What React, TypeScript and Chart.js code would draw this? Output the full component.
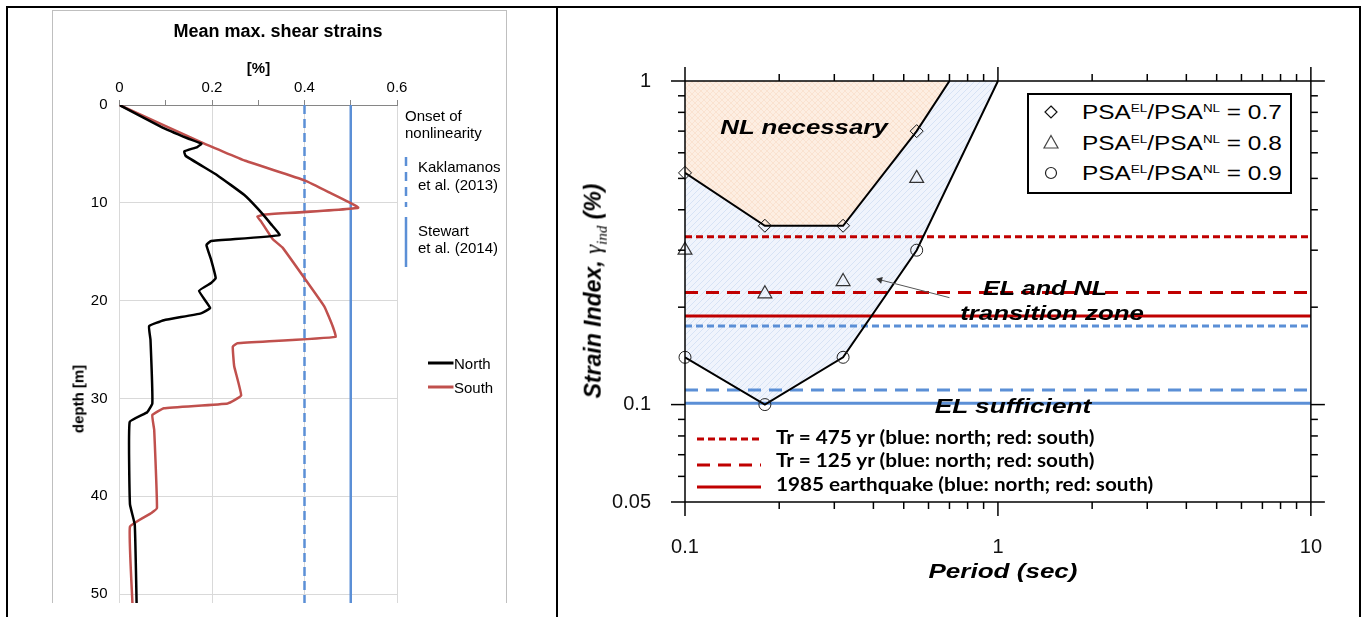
import React, { useEffect, useRef } from 'react';
import { Chart, registerables } from 'chart.js';

Chart.register(...registerables);

const ARIAL = '"Liberation Sans", Arial, Helvetica, sans-serif';
const NARROW = 'Lato, "Open Sans", sans-serif';
const SERIF = '"Liberation Serif", "Times New Roman", serif';

// ---------------- left panel data ----------------
const northDepth = [0, 2.2, 3.4, 3.95, 4.3, 4.75, 5.2, 7.2, 9.2, 10.6, 12.2, 13.3, 13.9, 14.3, 15.8, 17.7, 18.2, 19.0, 20.75, 21.3, 22.0, 22.6, 24.0, 30.5, 31.4, 32.4, 40.8, 42.9, 51, 60];
const northStrain = [0, 0.089, 0.147, 0.177, 0.168, 0.14, 0.143, 0.212, 0.27, 0.299, 0.328, 0.346, 0.198, 0.188, 0.198, 0.208, 0.198, 0.172, 0.196, 0.176, 0.096, 0.064, 0.067, 0.071, 0.06, 0.022, 0.0226, 0.033, 0.037, 0.04];
const southDepth = [0, 3.8, 5.7, 7.7, 8.9, 10.5, 11.2, 11.4, 11.9, 13.7, 14.6, 17.7, 20.6, 22.5, 23.7, 24.35, 24.7, 26.7, 29.7, 30.5, 31.0, 31.7, 33.2, 41.2, 41.7, 43.1, 51, 60];
const southStrain = [0, 0.176, 0.272, 0.40, 0.452, 0.516, 0.313, 0.298, 0.306, 0.331, 0.353, 0.40, 0.443, 0.460, 0.467, 0.255, 0.245, 0.248, 0.263, 0.234, 0.096, 0.071, 0.075, 0.081, 0.069, 0.0226, 0.028, 0.031];
const onsetKaklamanos = 0.4;
const onsetStewart = 0.5;
const depthAxisMax = 60;
const strainTickValues = [0, 0.1, 0.2, 0.3, 0.4, 0.5, 0.6];
const strainTickLabels = [0, 0.2, 0.4, 0.6];
const depthTickValues = [0, 10, 20, 30, 40, 50, 60];

// ---------------- right panel data ----------------
const diamondPeriod = [0.1, 0.18, 0.32, 0.55];
const diamondStrain = [0.52, 0.357, 0.357, 0.70];
const trianglePeriod = [0.1, 0.18, 0.32, 0.55];
const triangleStrain = [0.30, 0.22, 0.24, 0.50];
const circlePeriod = [0.1, 0.18, 0.32, 0.55];
const circleStrain = [0.14, 0.10, 0.14, 0.30];
const nlBoundaryPeriod = [0.1, 0.18, 0.32, 0.55, 0.7];
const nlBoundaryStrain = [0.52, 0.357, 0.357, 0.70, 1.0];
const elBoundaryPeriod = [0.1, 0.18, 0.32, 0.55, 1.0];
const elBoundaryStrain = [0.14, 0.10, 0.14, 0.30, 1.0];
const tr475South = 0.33;
const tr125South = 0.222;
const eq1985South = 0.188;
const tr475North = 0.175;
const tr125North = 0.111;
const eq1985North = 0.101;
const periodRange = [0.1, 10];
const strainRange = [0.05, 1];
const periodTicks = [0.1, 1, 10];
const periodMinorTicks = [0.2, 0.3, 0.4, 0.5, 0.6, 0.7, 0.8, 0.9, 2, 3, 4, 5, 6, 7, 8, 9];
const strainTicks = [0.05, 0.1, 1];
const strainMinorTicks = [0.06, 0.07, 0.08, 0.09, 0.2, 0.3, 0.4, 0.5, 0.6, 0.7, 0.8, 0.9];
const arrowPeriod = [0.70, 0.42];
const arrowStrain = [0.214, 0.243];

const RED = '#c00000';
const BLUE = '#5b8fd6';
const SHORT_DASH = [7, 4];
const LONG_DASH = [13, 8];

const pts = (xs: number[], ys: number[]) => xs.map((x, i) => ({ x, y: ys[i] }));

function makePattern(base: string, line: string, cross: boolean) {
  const c = document.createElement('canvas');
  c.width = 6;
  c.height = 6;
  const g = c.getContext('2d')!;
  g.fillStyle = base;
  g.fillRect(0, 0, 6, 6);
  g.strokeStyle = line;
  g.lineWidth = 1;
  g.beginPath();
  g.moveTo(0, 6);
  g.lineTo(6, 0);
  if (cross) {
    g.moveTo(0, 0);
    g.lineTo(6, 6);
  }
  g.stroke();
  return g.createPattern(c, 'repeat')!;
}

function LeftChart() {
  const ref = useRef<HTMLCanvasElement>(null);
  useEffect(() => {
    const font = { family: ARIAL, size: 15 };
    const chart = new Chart(ref.current!, {
      type: 'scatter',
      data: {
        datasets: [
          { label: 'North', data: pts(northStrain, northDepth), showLine: true, borderColor: '#000', borderWidth: 2.5, pointRadius: 0, tension: 0.1 },
          { label: 'South', data: pts(southStrain, southDepth), showLine: true, borderColor: '#c0504d', borderWidth: 2.5, pointRadius: 0, tension: 0.1 },
          { label: 'Kaklamanos et al. (2013)', data: [{ x: onsetKaklamanos, y: 0 }, { x: onsetKaklamanos, y: depthAxisMax }], showLine: true, borderColor: BLUE, borderWidth: 2.5, borderDash: [9, 5], pointRadius: 0 },
          { label: 'Stewart et al. (2014)', data: [{ x: onsetStewart, y: 0 }, { x: onsetStewart, y: depthAxisMax }], showLine: true, borderColor: BLUE, borderWidth: 2.5, pointRadius: 0 },
        ] as any,
      },
      options: {
        animation: false,
        responsive: false,
        devicePixelRatio: 1,
        layout: { padding: { left: 0, right: 109, top: 0, bottom: 39 } },
        plugins: { legend: { display: false }, tooltip: { enabled: false } },
        scales: {
          x: {
            type: 'linear',
            position: 'top',
            min: 0,
            max: 0.6,
            afterBuildTicks: (s: any) => { s.ticks = strainTickValues.map((v) => ({ value: v })); },
            afterFit: (s: any) => { s.height = 94; },
            ticks: {
              autoSkip: false,
              maxRotation: 0,
              padding: 3,
              color: '#000',
              font,
              callback: (v: any) => (strainTickLabels.includes(v) ? String(v) : ''),
            },
            grid: {
              color: (c: any) => (strainTickLabels.includes(c.tick?.value) ? '#d9d9d9' : 'rgba(0,0,0,0)'),
              tickColor: '#868686',
              tickLength: 5,
              lineWidth: 1,
            },
            border: { color: '#868686', width: 1 },
          },
          y: {
            type: 'linear',
            reverse: true,
            min: 0,
            max: depthAxisMax,
            afterBuildTicks: (s: any) => { s.ticks = depthTickValues.map((v) => ({ value: v })); },
            afterFit: (s: any) => { s.width = 66.5; },
            ticks: { padding: 12, color: '#000', font, callback: (v: any) => String(v) },
            grid: { color: '#d9d9d9', drawTicks: false, lineWidth: 1 },
            border: { display: false },
          },
        },
      } as any,
    });
    return () => chart.destroy();
  }, []);
  return <canvas ref={ref} width={453} height={720} style={{ position: 'absolute', left: 0, top: 0, width: 453, height: 720 }} />;
}

const logFramePlugin = {
  id: 'logFrame',
  afterDatasetsDraw(chart: any) {
    const { ctx, chartArea: a, scales } = chart;
    const x = scales.x;
    const y = scales.y;
    const major = 14;
    const minor = 7;
    ctx.save();
    ctx.strokeStyle = '#000';
    ctx.lineWidth = 1.5;
    const seg = (x1: number, y1: number, x2: number, y2: number) => {
      ctx.beginPath();
      ctx.moveTo(x1, y1);
      ctx.lineTo(x2, y2);
      ctx.stroke();
    };
    seg(a.left, a.top, a.right, a.top);
    seg(a.left, a.bottom, a.right, a.bottom);
    seg(a.left, a.top, a.left, a.bottom);
    seg(a.right, a.top, a.right, a.bottom);
    periodTicks.forEach((v) => {
      const p = x.getPixelForValue(v);
      seg(p, a.bottom, p, a.bottom + major);
      seg(p, a.top, p, a.top - major);
    });
    periodMinorTicks.forEach((v) => {
      const p = x.getPixelForValue(v);
      seg(p, a.bottom, p, a.bottom + minor);
      seg(p, a.top, p, a.top - minor);
    });
    strainTicks.forEach((v) => {
      const p = y.getPixelForValue(v);
      seg(a.left - major, p, a.left, p);
      seg(a.right, p, a.right + major, p);
    });
    strainMinorTicks.forEach((v) => {
      const p = y.getPixelForValue(v);
      seg(a.left - minor, p, a.left, p);
      seg(a.right, p, a.right + minor, p);
    });
    ctx.restore();
  },
};

function RightChart() {
  const ref = useRef<HTMLCanvasElement>(null);
  useEffect(() => {
    const orange = makePattern('#fdeee2', 'rgba(243,196,160,0.28)', true);
    const blue = makePattern('#f0f4fc', 'rgba(170,195,232,0.35)', false);
    const nlBoundary = pts(nlBoundaryPeriod, nlBoundaryStrain);
    const elBoundary = pts(elBoundaryPeriod, elBoundaryStrain);
    const nlRegion = [{ x: periodRange[0], y: strainRange[1] }, ...nlBoundary.slice().reverse()];
    const transitionRegion = [...nlBoundary, ...elBoundary.slice().reverse()];
    const hline = (v: number) => [{ x: periodRange[0], y: v }, { x: periodRange[1], y: v }];
    const lineDs = (label: string, v: number, color: string, dash: number[]) => ({
      label, data: hline(v), showLine: true, borderColor: color, borderWidth: 3, borderDash: dash, pointRadius: 0,
    });
    const font = { family: ARIAL, size: 20 };
    const chart = new Chart(ref.current!, {
      type: 'scatter',
      data: {
        datasets: [
          { label: 'PSA 0.7', data: pts(diamondPeriod, diamondStrain), clip: false, pointStyle: 'rectRot', pointRadius: 6.5, pointBorderColor: '#111', pointBorderWidth: 1, pointBackgroundColor: 'rgba(0,0,0,0)', showLine: false },
          { label: 'PSA 0.8', data: pts(trianglePeriod, triangleStrain), clip: false, pointStyle: 'triangle', pointRadius: 8, pointBorderColor: '#333', pointBorderWidth: 1.2, pointBackgroundColor: 'rgba(0,0,0,0)', showLine: false },
          { label: 'PSA 0.9', data: pts(circlePeriod, circleStrain), clip: false, pointStyle: 'circle', pointRadius: 6, pointBorderColor: '#222', pointBorderWidth: 1, pointBackgroundColor: 'rgba(0,0,0,0)', showLine: false },
          { label: 'arrow', data: pts(arrowPeriod, arrowStrain), showLine: true, borderColor: '#555', borderWidth: 1, pointRadius: [0, 4], pointStyle: 'triangle', pointRotation: -76, pointBackgroundColor: '#333', pointBorderColor: '#333', pointBorderWidth: 0 },
          { label: 'NL boundary', data: nlBoundary, showLine: true, borderColor: '#000', borderWidth: 2, pointRadius: 0 },
          { label: 'EL boundary', data: elBoundary, showLine: true, borderColor: '#000', borderWidth: 2, pointRadius: 0 },
          lineDs('Tr475 south', tr475South, RED, SHORT_DASH),
          lineDs('Tr125 south', tr125South, RED, LONG_DASH),
          lineDs('1985 south', eq1985South, RED, []),
          lineDs('Tr475 north', tr475North, BLUE, SHORT_DASH),
          lineDs('Tr125 north', tr125North, BLUE, LONG_DASH),
          lineDs('1985 north', eq1985North, BLUE, []),
          { label: 'transition', data: transitionRegion, showLine: true, borderWidth: 0, borderColor: 'rgba(0,0,0,0)', backgroundColor: blue, fill: 'shape', pointRadius: 0 },
          { label: 'NL region', data: nlRegion, showLine: true, borderWidth: 0, borderColor: 'rgba(0,0,0,0)', backgroundColor: orange, fill: 'shape', pointRadius: 0 },
        ] as any,
      },
      options: {
        animation: false,
        responsive: false,
        devicePixelRatio: 1,
        layout: { padding: { left: 0, right: 39, top: 71, bottom: 48 } },
        plugins: { legend: { display: false }, tooltip: { enabled: false } },
        scales: {
          x: {
            type: 'logarithmic',
            min: periodRange[0],
            max: periodRange[1],
            afterBuildTicks: (s: any) => { s.ticks = periodTicks.map((v) => ({ value: v })); },
            afterFit: (s: any) => { s.height = 60; },
            ticks: { autoSkip: false, maxRotation: 0, padding: 33, color: '#111', font, callback: (v: any) => String(v) },
            grid: { display: false, drawTicks: false },
            border: { display: false },
          },
          y: {
            type: 'logarithmic',
            min: strainRange[0],
            max: strainRange[1],
            afterBuildTicks: (s: any) => { s.ticks = strainTicks.map((v) => ({ value: v })); },
            afterFit: (s: any) => { s.width = 125; },
            ticks: { autoSkip: false, padding: 34, color: '#111', font, callback: (v: any) => String(v) },
            grid: { display: false, drawTicks: false },
            border: { display: false },
          },
        },
      } as any,
      plugins: [logFramePlugin],
    });
    return () => chart.destroy();
  }, []);
  return <canvas ref={ref} width={795} height={600} style={{ position: 'absolute', left: 560, top: 10, width: 795, height: 600 }} />;
}

const C = (props: { x: number; y: number; k?: number; style?: any; children: any }) => (
  <div
    style={{
      position: 'absolute',
      left: props.x,
      top: props.y,
      transform: `translate(-50%, -50%) scaleX(${props.k ?? 1})`,
      whiteSpace: 'nowrap',
      ...props.style,
    }}
  >
    {props.children}
  </div>
);

const L = (props: { x: number; y: number; k?: number; style?: any; children: any }) => (
  <div
    style={{
      position: 'absolute',
      left: props.x,
      top: props.y,
      transform: `translateY(-50%) scaleX(${props.k ?? 1})`,
      transformOrigin: 'left center',
      whiteSpace: 'nowrap',
      ...props.style,
    }}
  >
    {props.children}
  </div>
);

const Seg = (props: { x1: number; y1: number; x2: number; y2: number; color: string; w: number; dash?: string }) => {
  const left = Math.min(props.x1, props.x2) - 4;
  const top = Math.min(props.y1, props.y2) - 4;
  const width = Math.abs(props.x2 - props.x1) + 8;
  const height = Math.abs(props.y2 - props.y1) + 8;
  return (
    <svg style={{ position: 'absolute', left, top, width, height, overflow: 'visible' }} width={width} height={height}>
      <line x1={props.x1 - left} y1={props.y1 - top} x2={props.x2 - left} y2={props.y2 - top} stroke={props.color} strokeWidth={props.w} strokeDasharray={props.dash} />
    </svg>
  );
};

const Sup = (props: { children: any }) => (
  <span style={{ fontSize: 11, position: 'relative', top: -7 }}>{props.children}</span>
);

const PsaLabel = (props: { v: string }) => (
  <span>
    PSA<Sup>EL</Sup>/PSA<Sup>NL</Sup> = {props.v}
  </span>
);

const Marker = (props: { kind: string; cx: number; cy: number }) => (
  <svg style={{ position: 'absolute', left: props.cx - 9, top: props.cy - 9 }} width={18} height={18}>
    {props.kind === 'diamond' && <polygon points="9,3 15,9 9,15 3,9" fill="none" stroke="#111" strokeWidth={1.2} />}
    {props.kind === 'triangle' && <polygon points="9,2.5 16,15 2,15" fill="none" stroke="#444" strokeWidth={1.2} />}
    {props.kind === 'circle' && <circle cx={9} cy={9} r={5.5} fill="none" stroke="#222" strokeWidth={1.2} />}
  </svg>
);

export default function App() {
  const leftText = { fontFamily: ARIAL, fontSize: 15, color: '#000' };
  const bi = { fontFamily: ARIAL, fontWeight: 'bold', fontStyle: 'italic', fontSize: 21, color: '#000' };
  const legText = { fontFamily: NARROW, fontWeight: 'bold', fontSize: 18, color: '#000' };
  return (
    <div style={{ position: 'fixed', left: 0, top: 0, width: 1362, height: 617, overflow: 'hidden', background: '#fff' }}>
      {/* table borders */}
      <div style={{ position: 'absolute', left: 6, top: 6, width: 1355, height: 2, background: '#000' }} />
      <div style={{ position: 'absolute', left: 6, top: 6, width: 2, height: 611, background: '#000' }} />
      <div style={{ position: 'absolute', left: 556, top: 6, width: 2, height: 611, background: '#000' }} />
      <div style={{ position: 'absolute', left: 1359, top: 6, width: 2, height: 611, background: '#000' }} />

      {/* left chart area */}
      <div style={{ position: 'absolute', left: 52, top: 10, width: 455, height: 593, border: '1px solid #bfbfbf', borderBottom: 'none', boxSizing: 'border-box', overflow: 'hidden' }}>
        <LeftChart />
      </div>
      <C x={278} y={31} style={{ ...leftText, fontSize: 18, fontWeight: 'bold' }}>Mean max. shear strains</C>
      <C x={258.5} y={67} style={{ ...leftText, fontWeight: 'bold' }}>[%]</C>
      <div style={{ position: 'absolute', left: 78, top: 399, transform: 'translate(-50%, -50%) rotate(-90deg)', whiteSpace: 'nowrap', ...leftText, fontWeight: 'bold' }}>depth [m]</div>
      <L x={405} y={115} style={leftText}>Onset of</L>
      <L x={405} y={132} style={leftText}>nonlinearity</L>
      <Seg x1={405.5} y1={157} x2={405.5} y2={207} color={BLUE} w={2.5} dash="9,6" />
      <L x={418} y={166} style={leftText}>Kaklamanos</L>
      <L x={418} y={184} style={leftText}>et al. (2013)</L>
      <Seg x1={405.5} y1={217} x2={405.5} y2={267} color={BLUE} w={2.5} />
      <L x={418} y={230} style={leftText}>Stewart</L>
      <L x={418} y={247} style={leftText}>et al. (2014)</L>
      <Seg x1={427.5} y1={363} x2={453} y2={363} color="#000" w={3} />
      <L x={454} y={363} style={leftText}>North</L>
      <Seg x1={427.5} y1={387} x2={453} y2={387} color="#c0504d" w={3} />
      <L x={454} y={387} style={leftText}>South</L>

      {/* right chart */}
      <RightChart />
      <C x={804} y={127} k={1.23} style={bi}>NL necessary</C>
      <C x={1045} y={288} k={1.2} style={bi}>EL and NL</C>
      <C x={1052} y={313} k={1.23} style={bi}>transition zone</C>
      <C x={1013} y={406} k={1.25} style={bi}>EL sufficient</C>
      <C x={1003} y={571} k={1.24} style={bi}>Period (sec)</C>
      <div style={{ position: 'absolute', left: 595, top: 291, transform: 'translate(-50%, -50%) rotate(-90deg)', whiteSpace: 'nowrap', ...bi, fontSize: 23 }}>
        Strain Index, <span style={{ fontFamily: SERIF, fontWeight: 'normal', fontStyle: 'italic' }}>γ<sub style={{ fontSize: '0.65em' }}>ind</sub></span> (%)
      </div>

      {/* marker legend */}
      <div style={{ position: 'absolute', left: 1027, top: 93, width: 265, height: 101, border: '2px solid #000', boxSizing: 'border-box', background: '#fff' }} />
      <Marker kind="diamond" cx={1051} cy={112} />
      <Marker kind="triangle" cx={1051} cy={142} />
      <Marker kind="circle" cx={1051} cy={173} />
      <L x={1082} y={112} k={1.22} style={{ fontFamily: ARIAL, fontSize: 20, color: '#000' }}><PsaLabel v="0.7" /></L>
      <L x={1082} y={143} k={1.22} style={{ fontFamily: ARIAL, fontSize: 20, color: '#000' }}><PsaLabel v="0.8" /></L>
      <L x={1082} y={173} k={1.22} style={{ fontFamily: ARIAL, fontSize: 20, color: '#000' }}><PsaLabel v="0.9" /></L>

      {/* line legend */}
      <Seg x1={697} y1={439} x2={761} y2={439} color={RED} w={3} dash="7,4" />
      <Seg x1={697} y1={465} x2={761} y2={465} color={RED} w={3} dash="13,8" />
      <Seg x1={697} y1={487} x2={761} y2={487} color={RED} w={3} />
      <L x={776} y={437} k={1.15} style={legText}>Tr = 475 yr (blue: north; red: south)</L>
      <L x={776} y={460} k={1.15} style={legText}>Tr = 125 yr (blue: north; red: south)</L>
      <L x={776} y={484} k={1.15} style={legText}>1985 earthquake (blue: north; red: south)</L>
    </div>
  );
}
